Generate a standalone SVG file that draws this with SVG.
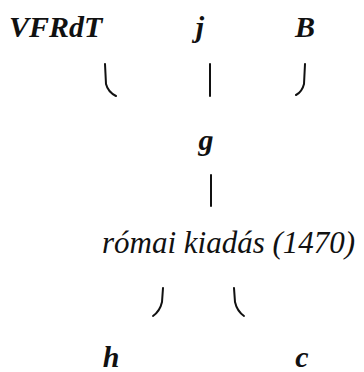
<svg xmlns="http://www.w3.org/2000/svg" width="364" height="372" viewBox="0 0 364 372">
<style>
.cn{fill:none;stroke:#111;stroke-width:2;stroke-linecap:round}
</style>
<rect width="364" height="372" fill="#fff"/>
<g id="VFRdT"><text x="9" y="37" fill="#111" font-family="Times New Roman, Liberation Serif, serif" font-style="italic" font-weight="bold" font-size="30">VFRdT</text></g>
<g id="j"><text x="200" y="37" fill="#111" text-anchor="middle" font-family="Times New Roman, Liberation Serif, serif" font-style="italic" font-weight="bold" font-size="30">j</text></g>
<g id="B"><text x="305" y="37" fill="#111" text-anchor="middle" font-family="Times New Roman, Liberation Serif, serif" font-style="italic" font-weight="bold" font-size="30">B</text></g>
<g id="g"><text x="206" y="150" fill="#111" text-anchor="middle" font-family="Times New Roman, Liberation Serif, serif" font-style="italic" font-weight="bold" font-size="30">g</text></g>
<g id="romai"><text x="102" y="253" fill="#111" font-family="Times New Roman, Liberation Serif, serif" font-style="italic" font-size="31">római kiadás (1470)</text></g>
<g id="h"><text x="111" y="367" fill="#111" text-anchor="middle" font-family="Times New Roman, Liberation Serif, serif" font-style="italic" font-weight="bold" font-size="30">h</text></g>
<g id="c"><text x="302" y="367" fill="#111" text-anchor="middle" font-family="Times New Roman, Liberation Serif, serif" font-style="italic" font-weight="bold" font-size="30">c</text></g>
<g id="connectors">
<path class="cn" d="M105 64 L106 84 Q108 92 116 96"/>
<path class="cn" d="M210 64 L210 96"/>
<path class="cn" d="M305 64 L304 84 Q302 92 296 95"/>
<path class="cn" d="M211 175 L211 206"/>
<path class="cn" d="M163 288 L162 302 Q160 311 153 316"/>
<path class="cn" d="M234 288 L235 302 Q237 311 244 316"/>
</g>
</svg>
